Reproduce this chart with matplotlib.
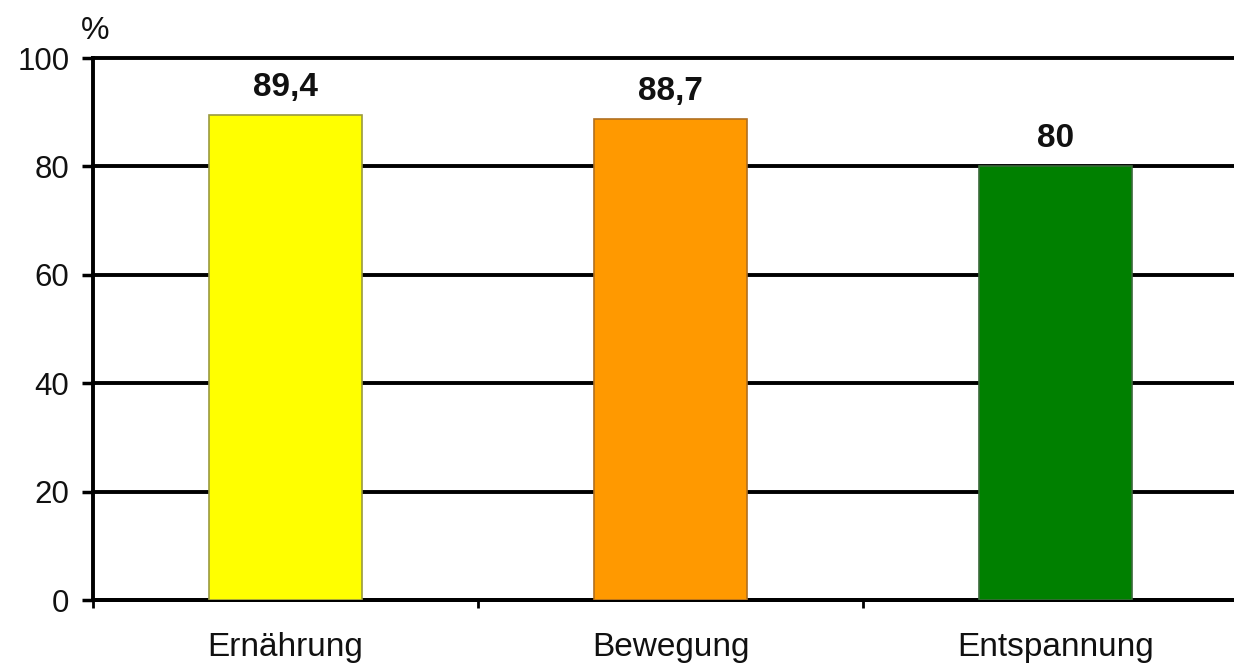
import matplotlib
matplotlib.use("Agg")
import matplotlib.pyplot as plt
import numpy as np

categories = ["Ernährung", "Bewegung", "Entspannung"]
values = [89.4, 88.7, 80]
value_labels = ["89,4", "88,7", "80"]
colors = ["#FFFF00", "#FF9900", "#008000"]
edge_colors = ["#9a9a40", "#b07020", "#3a6a3a"]
yticks = [0, 20, 40, 60, 80, 100]

plt.rcParams['font.family'] = ['Liberation Sans', 'DejaVu Sans']

W, H = 1234, 667
fig = plt.figure(figsize=(W / 100, H / 100), dpi=100)
ax = fig.add_axes([93 / W, 67 / H, 1155 / W, 542 / H])

x = np.arange(len(categories))
bars = ax.bar(x, values, width=0.395, color=colors, edgecolor=edge_colors,
              linewidth=1.2, zorder=3)

for xi, v, lab in zip(x, values, value_labels):
    ax.text(xi, v + 2.3, lab, ha="center", va="bottom", fontsize=24,
            fontweight="bold", color="#111111")

ax.set_xlim(-0.5, len(categories) - 0.5)
ax.set_ylim(0, 100)
ax.set_yticks(yticks)
ax.set_yticklabels([str(t) for t in yticks], fontsize=22.5, color="#111111")
ax.set_xticks(x)
ax.set_xticklabels(categories, fontsize=24, color="#111111")
ax.set_xticks(np.arange(-0.5, len(categories), 1.0), minor=True)

ax.yaxis.grid(True, color="black", linewidth=2.8, zorder=0)
for gl in ax.get_ygridlines():
    gl.set_clip_on(False)
ax.set_axisbelow(True)

for s in ["top", "right"]:
    ax.spines[s].set_visible(False)
ax.spines["left"].set_linewidth(2.8)
ax.spines["bottom"].set_linewidth(2.8)

ax.tick_params(axis="y", direction="out", length=8, width=2.5, pad=9)
ax.tick_params(axis="x", which="major", length=0, pad=23)
ax.tick_params(axis="x", which="minor", direction="out", length=6, width=2)

fig.text(81 / W, 1 - 31 / H, "%", fontsize=23, ha="left", va="center",
         color="#111111")

fig.savefig("out.png", dpi=100)
